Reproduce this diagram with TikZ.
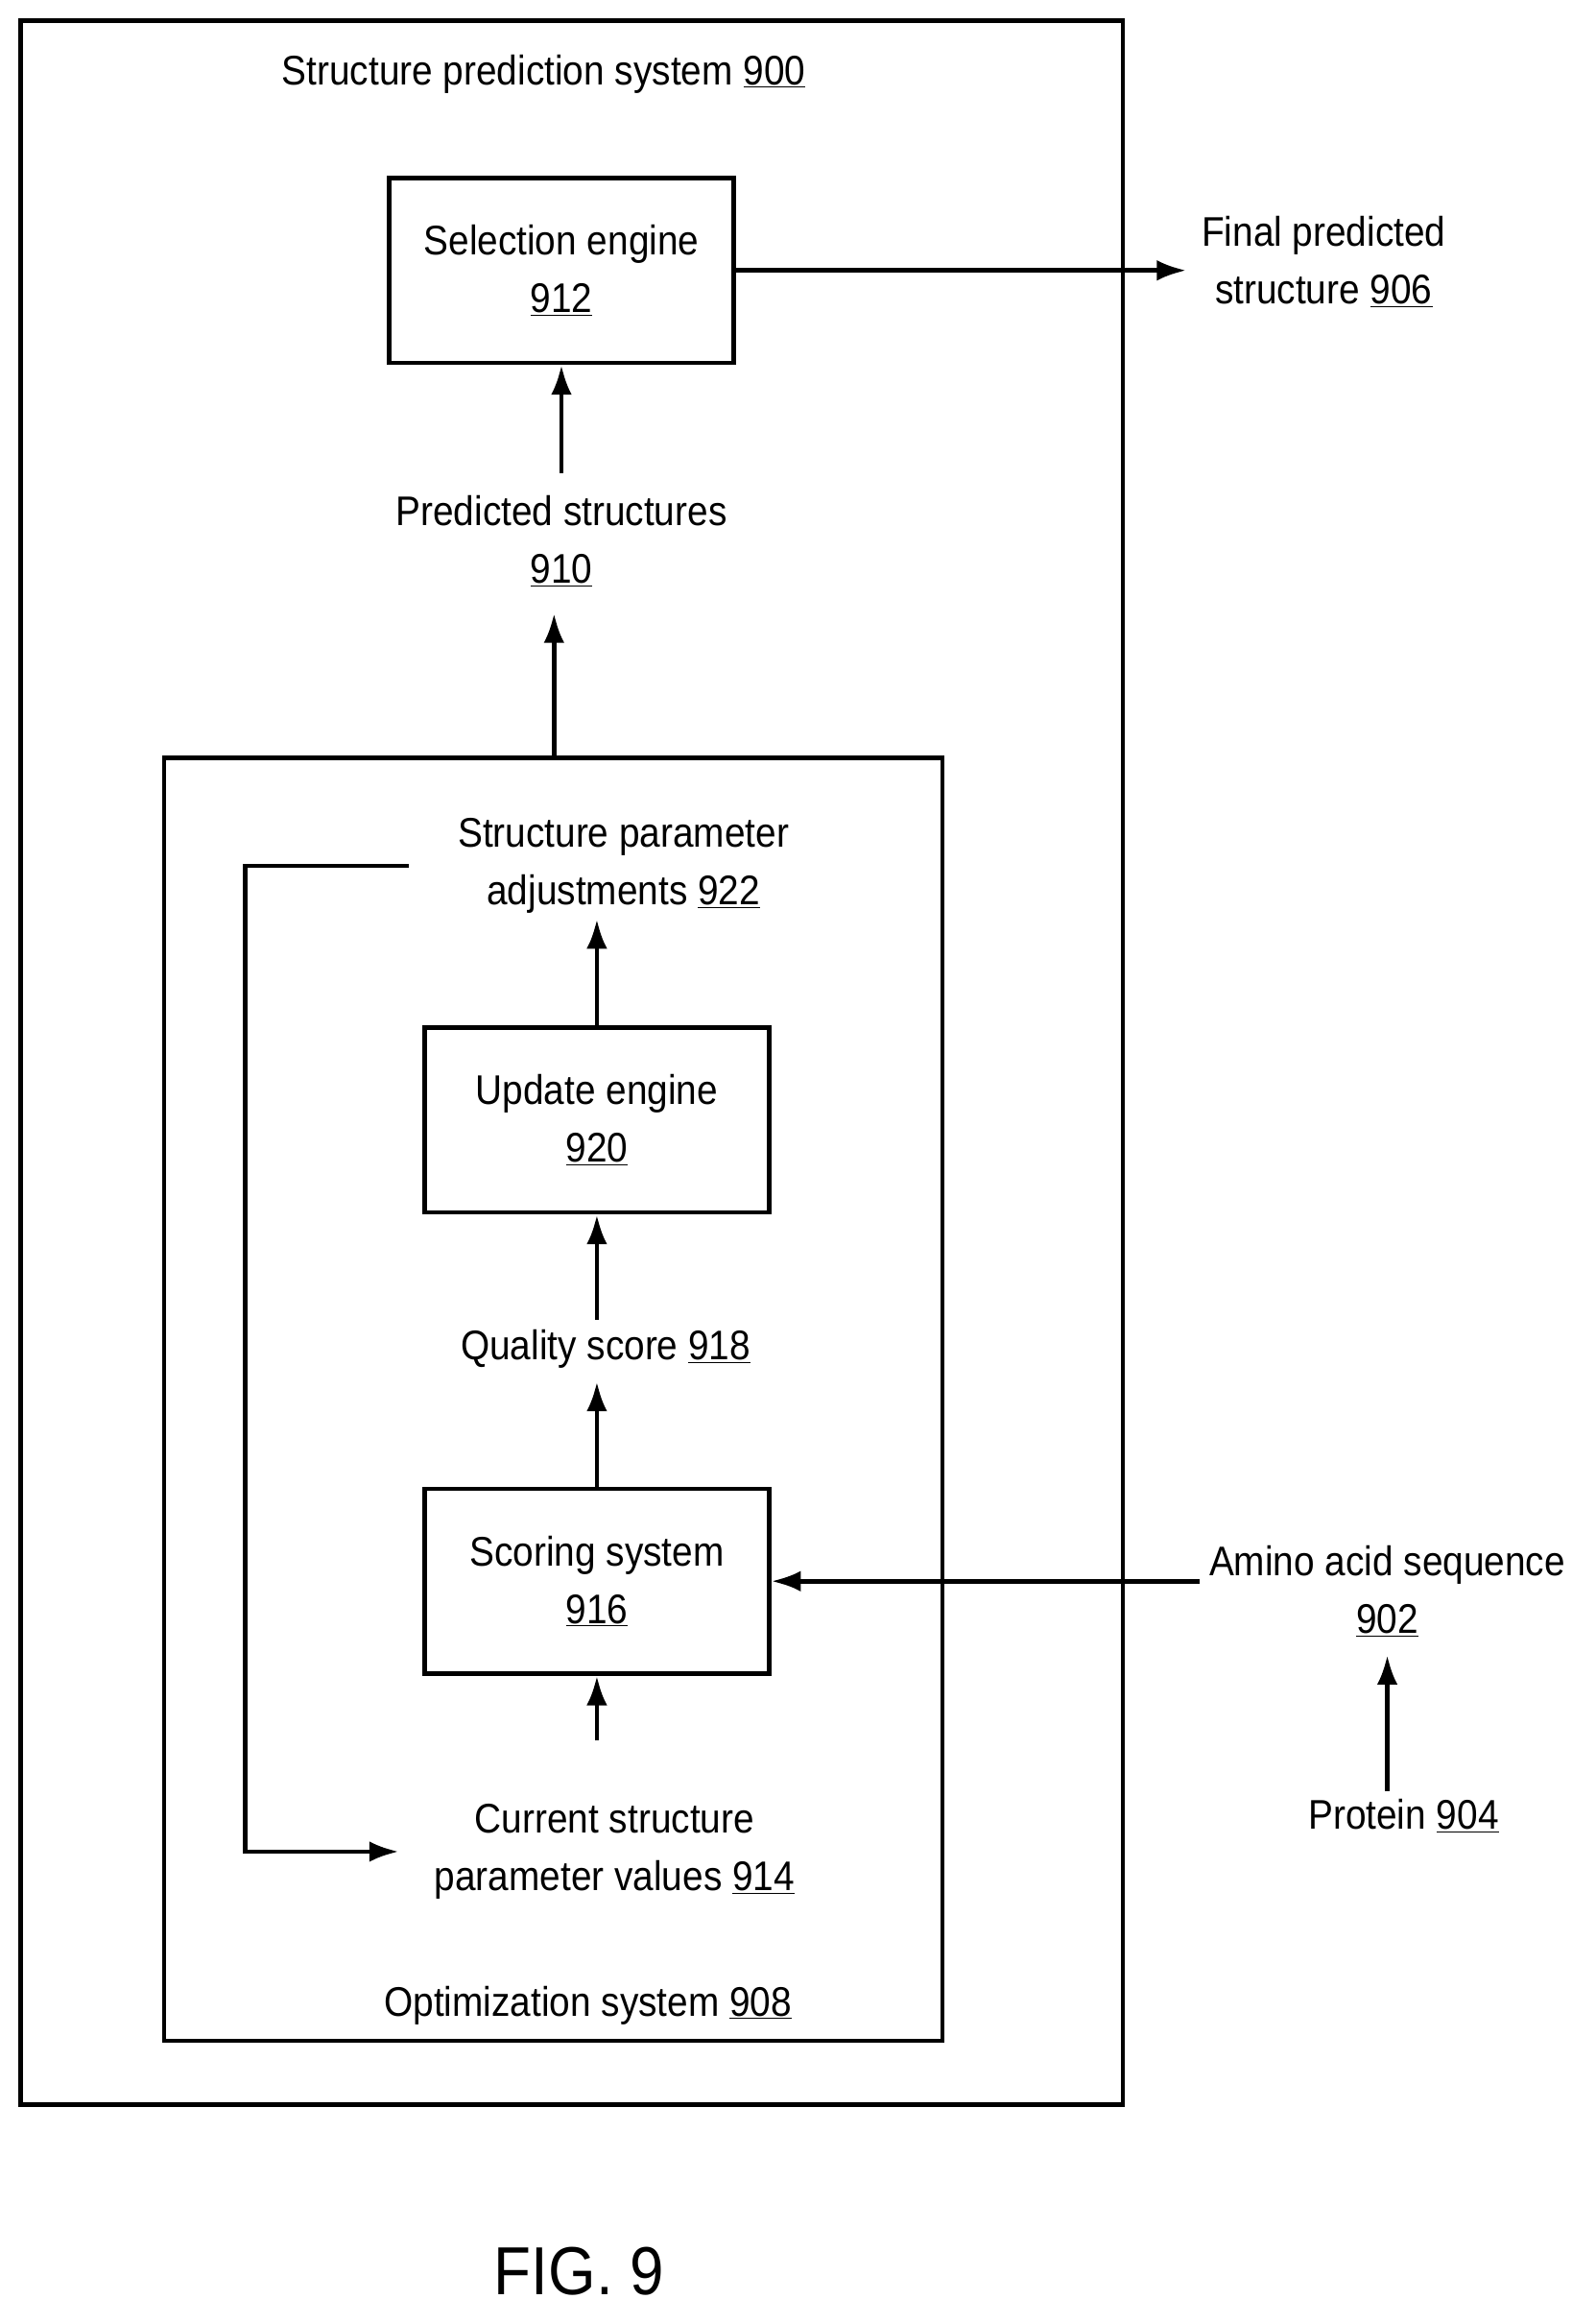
\documentclass[tikz,border=0pt]{standalone}
\usepackage{fontspec}
\setmainfont{Liberation Sans}[FakeStretch=0.9]
\usetikzlibrary{arrows.meta}
\begin{document}
\begin{tikzpicture}[x=1pt,y=-1pt,line width=3pt,
  lbl/.style={align=center,font=\fontsize{28}{39}\selectfont,inner sep=0pt},
  box/.style={draw,line width=3pt,minimum width=233pt,minimum height=125pt,align=center,font=\fontsize{28}{39}\selectfont},
  arr/.style={-{Latex[length=20pt,width=14pt]}}]
\useasboundingbox (0,0) rectangle (1080,1572);
\draw (14,14) rectangle (760,1424);
\draw (111,513) rectangle (638,1381);
\node[lbl] (t900) at (368,50) {Structure prediction system \underline{900}};
\node[lbl] (t908) at (398,1357) {Optimization system \underline{908}};
\node[box] (sel) at (380,183) {Selection engine\\\underline{912}};
\node[box] (upd) at (404,758) {Update engine\\\underline{920}};
\node[box] (sco) at (404,1070) {Scoring system\\\underline{916}};
\node[lbl] (fin) at (896,177) {Final predicted\\structure \underline{906}};
\node[lbl] (pred) at (380,366) {Predicted structures\\\underline{910}};
\node[lbl] (adj) at (422,586) {Structure parameter\\adjustments \underline{922}};
\node[lbl] (qs) at (410,913) {Quality score \underline{918}};
\node[lbl] (cur) at (416,1253) {Current structure\\parameter values \underline{914}};
\node[lbl] (aa) at (939,1077) {Amino acid sequence\\\underline{902}};
\node[lbl] (prot) at (950,1229) {Protein \underline{904}};
\node[lbl,font=\fontsize{46}{52}\selectfont] (fig) at (392,1537) {FIG. 9};
\coordinate (fb1) at (277,586);
\coordinate (fb2) at (270,1253);
\draw[arr] (sel.east) -- (803,183);
\draw[arr] (380,320) -- (sel.south);
\draw[arr] (375,513) -- (375,415);
\draw[arr] (upd.north) -- (404,622);
\draw[arr] (404,893) -- (upd.south);
\draw[arr] (sco.north) -- (404,935);
\draw[arr] (404,1178) -- (sco.south);
\draw[arr] (812,1070) -- (sco.east);
\draw[arr] (939,1212) -- (939,1120);
\draw[arr] (fb1) -- (166,586) -- (166,1253) -- (fb2);
\end{tikzpicture}
\end{document}
